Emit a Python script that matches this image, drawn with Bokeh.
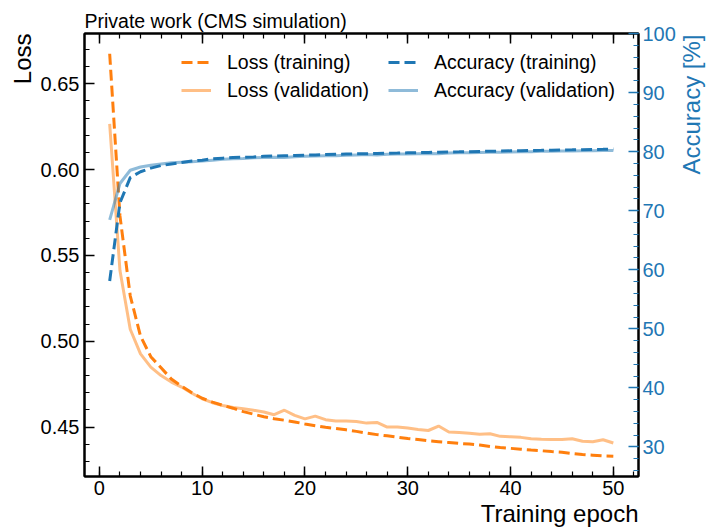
import math

from bokeh.embed import file_html
from bokeh.layouts import row
from bokeh.models import (Label, Legend, LegendItem, LinearAxis, PrintfTickFormatter,
                          Range1d, SingleIntervalTicker, Title)
from bokeh.plotting import figure
from bokeh.resources import INLINE

# ---- training history -------------------------------------------------------
epochs = list(range(1, 51))

loss_train = [0.6675, 0.5730, 0.5265, 0.5030, 0.4910, 0.4845, 0.4780, 0.4738, 0.4700, 0.4668,
              0.4645, 0.4627, 0.4610, 0.4590, 0.4575, 0.4560, 0.4548, 0.4540, 0.4530, 0.4518,
              0.4508, 0.4499, 0.4492, 0.4484, 0.4475, 0.4465, 0.4456, 0.4449, 0.4441, 0.4433,
              0.4427, 0.4420, 0.4415, 0.4410, 0.4405, 0.4401, 0.4395, 0.4387, 0.4381, 0.4376,
              0.4371, 0.4366, 0.4362, 0.4357, 0.4353, 0.4346, 0.4340, 0.4336, 0.4332, 0.4330]

loss_val = [0.6267, 0.5412, 0.5070, 0.4926, 0.4849, 0.4800, 0.4762, 0.4733, 0.4697, 0.4665,
            0.4642, 0.4626, 0.4614, 0.4607, 0.4598, 0.4588, 0.4572, 0.4598, 0.4568, 0.4548,
            0.4564, 0.4543, 0.4535, 0.4535, 0.4533, 0.4523, 0.4527, 0.4500, 0.4500, 0.4494,
            0.4486, 0.4480, 0.4506, 0.4471, 0.4468, 0.4464, 0.4458, 0.4461, 0.4446, 0.4443,
            0.4440, 0.4432, 0.4429, 0.4428, 0.4428, 0.4432, 0.4417, 0.4415, 0.4426, 0.4407]

acc_train = [58.1, 71.35, 75.6, 76.6, 77.2, 77.65, 77.9, 78.15, 78.4, 78.55,
             78.8, 78.9, 79.0, 79.05, 79.1, 79.2, 79.25, 79.3, 79.35, 79.4,
             79.45, 79.5, 79.55, 79.6, 79.62, 79.65, 79.7, 79.73, 79.76, 79.8,
             79.83, 79.86, 79.9, 79.93, 79.96, 80.0, 80.03, 80.06, 80.1, 80.13,
             80.16, 80.2, 80.22, 80.25, 80.28, 80.3, 80.33, 80.36, 80.4, 80.45]

acc_val = [68.45, 74.6, 76.85, 77.4, 77.7, 77.9, 78.1, 78.2, 78.3, 78.4,
           78.55, 78.7, 78.8, 78.85, 78.95, 79.0, 79.05, 79.0, 79.15, 79.2,
           79.25, 79.3, 79.3, 79.4, 79.45, 79.5, 79.45, 79.55, 79.6, 79.6,
           79.65, 79.7, 79.65, 79.75, 79.8, 79.8, 79.85, 79.9, 79.9, 79.95,
           80.0, 80.0, 80.05, 80.05, 80.1, 80.1, 80.15, 80.15, 80.2, 80.2]

ORANGE = "#ff7f0e"
BLUE = "#1f77b4"
FONT = "Liberation Sans"
STRIP = 30  # width of the strip carrying the right-hand axis title

# ---- main figure ---------------------------------------------------------------
p = figure(width=708 - STRIP, height=530, output_backend="svg", toolbar_location=None,
           x_range=Range1d(-1.45, 52.45), y_range=Range1d(0.4212, 0.6793),
           min_border_left=84, min_border_right=39, min_border_top=33, min_border_bottom=54,
           background_fill_color="white", border_fill_color="white",
           title="Private work (CMS simulation)")
p.xgrid.visible = False
p.ygrid.visible = False
p.outline_line_color = "black"
p.outline_line_width = 2

p.title.align = "left"
p.title.text_font = FONT
p.title.text_font_size = "19.5px"
p.title.text_font_style = "normal"
p.title.text_color = "black"
p.title.standoff = 4
p.title.offset = 0

p.extra_y_ranges = {"acc": Range1d(25, 100)}


def style_axis(ax, color="black"):
    ax.axis_line_color = "black"
    ax.axis_line_width = 2
    ax.major_tick_in = 10
    ax.major_tick_out = 0
    ax.minor_tick_in = 5
    ax.minor_tick_out = 0
    ax.major_tick_line_color = color
    ax.minor_tick_line_color = color
    ax.major_tick_line_width = 1.5
    ax.minor_tick_line_width = 1.2
    ax.major_label_text_font = FONT
    ax.major_label_text_font_size = "20px"
    ax.major_label_text_color = color
    ax.major_label_standoff = 5


xaxis = p.xaxis[0]
xaxis.ticker = SingleIntervalTicker(interval=10, num_minor_ticks=5)
style_axis(xaxis)
xaxis.major_label_standoff = 4

yaxis = p.yaxis[0]
yaxis.ticker = SingleIntervalTicker(interval=0.05, num_minor_ticks=5)
yaxis.formatter = PrintfTickFormatter(format="%.2f")
style_axis(yaxis)

# mirrored ticks along the top edge, without labels
top_axis = LinearAxis(ticker=SingleIntervalTicker(interval=10, num_minor_ticks=5))
style_axis(top_axis)
top_axis.major_label_text_color = None
top_axis.major_label_text_font_size = "1px"
top_axis.major_label_standoff = 0
p.add_layout(top_axis, "above")

acc_axis = LinearAxis(y_range_name="acc",
                      ticker=SingleIntervalTicker(interval=10, num_minor_ticks=5))
style_axis(acc_axis, BLUE)
acc_axis.major_label_standoff = 4
p.add_layout(acc_axis, "right")

# axis titles at the far ends of the axes
p.add_layout(Title(text="Training epoch", align="right", text_font=FONT,
                   text_font_size="24px", text_font_style="normal", text_color="black",
                   standoff=0, offset=0), "below")
p.add_layout(Title(text="Loss", align="right", text_font=FONT,
                   text_font_size="24px", text_font_style="normal", text_color="black",
                   standoff=4, offset=0), "left")

# ---- curves -----------------------------------------------------------------
r_lt = p.line(epochs, loss_train, line_color=ORANGE, line_width=3, line_dash="11 5")
r_lv = p.line(epochs, loss_val, line_color=ORANGE, line_alpha=0.5, line_width=3)
r_at = p.line(epochs, acc_train, line_color=BLUE, line_width=3, line_dash="11 5",
              y_range_name="acc")
r_av = p.line(epochs, acc_val, line_color=BLUE, line_alpha=0.5, line_width=3,
              y_range_name="acc")


# ---- legends (two columns) ---------------------------------------------------
def make_legend(items, loc):
    return Legend(items=items, location=loc, orientation="vertical",
                  border_line_color=None, background_fill_alpha=0,
                  padding=0, margin=0, spacing=4,
                  glyph_width=30, glyph_height=24, label_height=24, label_standoff=16,
                  label_text_font=FONT, label_text_font_size="19.5px",
                  label_text_color="black")


leg_loss = make_legend([LegendItem(label="Loss (training)", renderers=[r_lt]),
                        LegendItem(label="Loss (validation)", renderers=[r_lv])], (97, 374))
leg_acc = make_legend([LegendItem(label="Accuracy (training)", renderers=[r_at]),
                       LegendItem(label="Accuracy (validation)", renderers=[r_av])], (304, 374))
p.add_layout(leg_loss)
p.add_layout(leg_acc)

# ---- strip with the accuracy axis title (reads bottom to top) -----------------
# its plotting area lines up with the main plot's frame (top edge at 443 px up)
strip = figure(width=STRIP, height=530, output_backend="svg", toolbar_location=None,
               x_range=Range1d(0, 1), y_range=Range1d(0, 1),
               x_axis_location=None, y_axis_location=None, min_border=0,
               background_fill_color="white", border_fill_color="white")
strip.outline_line_color = None
strip.grid.visible = False
strip.add_layout(Label(x=13, y=442, x_units="screen", y_units="screen", angle=math.pi / 2,
                       text="Accuracy [%]", text_font=FONT, text_font_size="24px",
                       text_color=BLUE, text_align="right", text_baseline="alphabetic"))

layout = row(p, strip, spacing=0)
open("out.html", "w").write(file_html(layout, INLINE))
